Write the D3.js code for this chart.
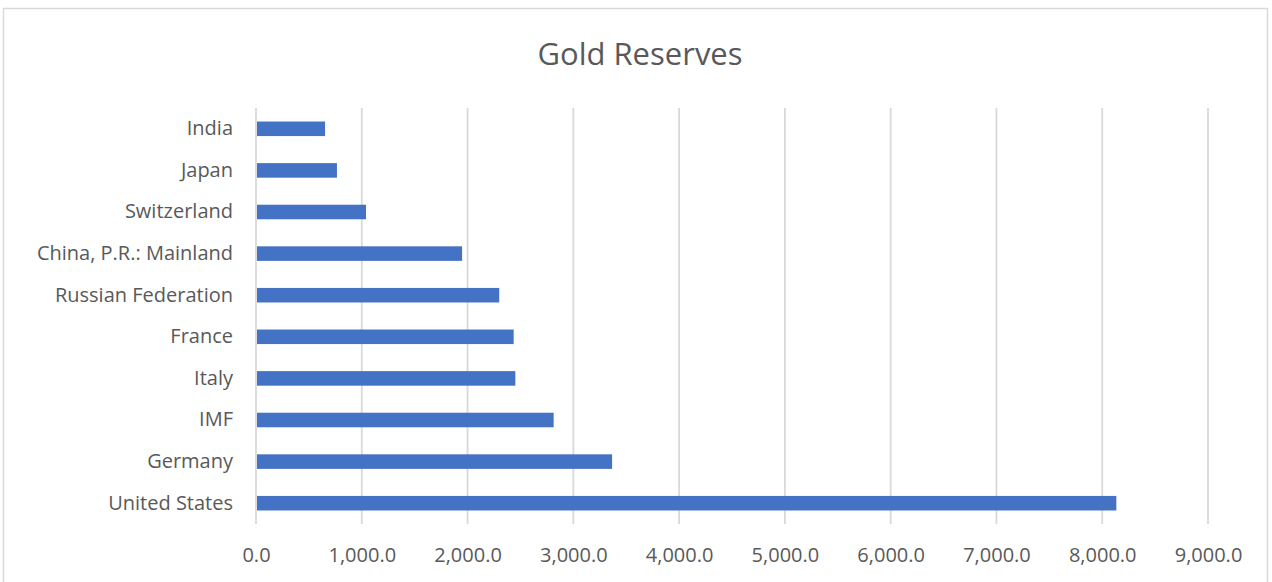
<!DOCTYPE html>
<html>
<head>
<meta charset="utf-8">
<script src="https://cdn.jsdelivr.net/npm/d3@7"></script>
<style>
  body { margin: 0; background: #fff; }
  svg { display: block; font-family: "Open Sans", "Noto Sans", sans-serif; }
</style>
</head>
<body>
<svg class="barChart" width="1272" height="582"></svg>
<script>
var countries = ["India", "Japan", "Switzerland", "China, P.R.: Mainland", "Russian Federation",
    "France", "Italy", "IMF", "Germany", "United States"];
var reserves = [653.0, 765.2, 1040.0, 1948.3, 2299.3, 2436.0, 2451.8, 2814.0, 3366.5, 8133.5];
var xTicks = [0, 1000, 2000, 3000, 4000, 5000, 6000, 7000, 8000, 9000];

var data = countries.map(function (c, i) {
    return { country: c, value: reserves[i] };
});

var svg = d3.select(".barChart"),
    margin = { top: 108, right: 64, bottom: 58, left: 256 },
    width = +svg.attr("width") - margin.left - margin.right,
    height = +svg.attr("height") - margin.top - margin.bottom;

// chart frame
svg.append("rect")
    .attr("x", 3.5).attr("y", 8.5)
    .attr("width", 1264).attr("height", 590)
    .attr("fill", "none")
    .attr("stroke", "#d9d9d9")
    .attr("stroke-width", 1.5);

svg.append("text")
    .attr("x", 640)
    .attr("y", 65)
    .attr("text-anchor", "middle")
    .attr("fill", "#595959")
    .style("font-size", "31px")
    .text("Gold Reserves");

var x = d3.scaleLinear().domain([0, 9000]).range([0, width]),
    y = d3.scaleBand().domain(countries).range([0, height]).paddingInner(0.65).paddingOuter(0.325);

var g = svg.append("g")
    .attr("transform", "translate(" + margin.left + "," + margin.top + ")");

// gridlines
g.append("g")
    .selectAll("line")
    .data(xTicks)
    .enter().append("line")
    .attr("x1", function (d) { return x(d); })
    .attr("x2", function (d) { return x(d); })
    .attr("y1", 0)
    .attr("y2", height)
    .attr("stroke", "#d9d9d9")
    .attr("stroke-width", 1.8);

g.selectAll(".bar")
    .data(data)
    .enter().append("rect")
    .attr("class", "bar")
    .attr("x", x(0) + 1)
    .attr("y", function (d) { return y(d.country); })
    .attr("width", function (d) { return x(d.value) - x(0) - 1; })
    .attr("height", y.bandwidth())
    .attr("fill", "#4472c4");

var xAxis = g.append("g")
    .attr("transform", "translate(0," + height + ")")
    .call(d3.axisBottom(x).tickValues(xTicks).tickSize(0).tickPadding(24)
        .tickFormat(d3.format(",.1f")));
xAxis.select(".domain").remove();
xAxis.selectAll("text")
    .attr("fill", "#595959")
    .style("font-size", "20px")
    .style("font-family", "\"Open Sans\", sans-serif");

var yAxis = g.append("g")
    .call(d3.axisLeft(y).tickSize(0).tickPadding(23));
yAxis.select(".domain").remove();
yAxis.selectAll("text")
    .attr("fill", "#595959")
    .style("font-size", "20px")
    .style("font-family", "\"Open Sans\", sans-serif");
</script>
</body>
</html>
